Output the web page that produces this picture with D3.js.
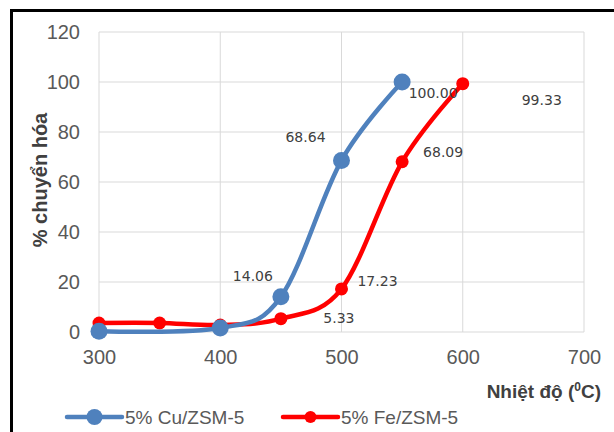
<!DOCTYPE html>
<html>
<head>
<meta charset="utf-8">
<script src="https://cdn.jsdelivr.net/npm/d3@7"></script>
<style>
  html, body { margin: 0; padding: 0; background: #fff; }
  svg { display: block; }
</style>
</head>
<body>
<svg id="chart" width="614" height="432"></svg>
<script>
// values
var cuTemps = [300, 400, 450, 500, 550];
var cuValues = [0.3, 1.6, 14.06, 68.64, 100.00];
var feTemps = [300, 350, 400, 450, 500, 550, 600];
var feValues = [3.6, 3.6, 2.8, 5.33, 17.23, 68.09, 99.33];
var xTicks = [300, 400, 500, 600, 700];
var yTicks = [0, 20, 40, 60, 80, 100, 120];
var seriesNames = ["5% Cu/ZSM-5", "5% Fe/ZSM-5"];

// which points carry a label, and where Excel pushed it (px from the point)
var cuLabelled = [2, 3, 4];
var cuNudge = [[-28, -21], [-36, -23], [31, 11]];
var feLabelled = [3, 4, 5, 6];
var feNudge = [[58, -1], [36, -8], [41, -10], [79, 16]];

var blue = "#4f81bd", red = "#ff0000";

var svg = d3.select("#chart");
svg.append("rect").attr("width", 614).attr("height", 432).attr("fill", "#fff");

// black frame, only top and left show in the crop
svg.append("path")
    .attr("d", "M11.5,432 V10.5 H614")
    .attr("fill", "none")
    .attr("stroke", "#000")
    .attr("stroke-width", 3);

var x = d3.scaleLinear().domain([300, 700]).range([99, 584]);
var y = d3.scaleLinear().domain([0, 120]).range([332, 32]);

var grid = svg.append("g");
grid.selectAll(".vg")
    .data(xTicks)
    .enter()
    .append("line")
    .attr("x1", function (d) { return x(d); })
    .attr("x2", function (d) { return x(d); })
    .attr("y1", y(120))
    .attr("y2", y(0))
    .attr("stroke", "#d9d9d9");
grid.selectAll(".hg")
    .data(yTicks)
    .enter()
    .append("line")
    .attr("x1", x(300))
    .attr("x2", x(700))
    .attr("y1", function (d) { return y(d); })
    .attr("y2", function (d) { return y(d); })
    .attr("stroke", "#d9d9d9");

// tick labels via the axis generators, lines hidden
var xAxis = svg.append("g")
    .attr("transform", "translate(0," + y(0) + ")")
    .call(d3.axisBottom(x).tickValues(xTicks).tickSize(0).tickPadding(18).tickFormat(d3.format("d")));
var yAxis = svg.append("g")
    .attr("transform", "translate(" + x(300) + ",0)")
    .call(d3.axisLeft(y).tickValues(yTicks).tickSize(0).tickPadding(19).tickFormat(d3.format("d")));
[xAxis, yAxis].forEach(function (a) {
    a.select(".domain").remove();
    a.selectAll("text")
        .attr("font-family", "Liberation Sans, Arial, sans-serif")
        .attr("font-size", 20)
        .attr("fill", "#595959");
});

// axis titles
svg.append("text")
    .attr("transform", "translate(47,180) rotate(-90)")
    .attr("text-anchor", "middle")
    .attr("font-family", "Liberation Sans, Arial, sans-serif")
    .attr("font-weight", "bold")
    .attr("font-size", 20)
    .attr("fill", "#404040")
    .text("% chuyển hóa");

var xt = svg.append("text")
    .attr("x", 601)
    .attr("y", 398)
    .attr("text-anchor", "end")
    .attr("font-family", "Liberation Sans, Arial, sans-serif")
    .attr("font-weight", "bold")
    .attr("font-size", 19)
    .attr("fill", "#404040");
xt.append("tspan").text("Nhiệt độ  (");
xt.append("tspan").attr("font-size", 12).attr("dy", -7).text("0");
xt.append("tspan").attr("dy", 7).text("C)");

var line = d3.line()
    .x(function (d) { return x(d[0]); })
    .y(function (d) { return y(d[1]); })
    .curve(d3.curveCardinal.tension(0));

function series(ts, vs, color, width, r) {
    var pts = ts.map(function (t, i) { return [t, vs[i]]; });
    svg.append("path")
        .datum(pts)
        .attr("d", line)
        .attr("fill", "none")
        .attr("stroke", color)
        .attr("stroke-width", width)
        .attr("stroke-linecap", "round");
    svg.append("g").selectAll("circle")
        .data(pts)
        .enter()
        .append("circle")
        .attr("cx", function (d) { return x(d[0]); })
        .attr("cy", function (d) { return y(d[1]); })
        .attr("r", r)
        .attr("fill", color);
    return pts;
}

function labels(pts, which, nudge) {
    svg.append("g").selectAll("text")
        .data(which)
        .enter()
        .append("text")
        .attr("x", function (k, i) { return x(pts[k][0]) + nudge[i][0]; })
        .attr("y", function (k, i) { return y(pts[k][1]) + nudge[i][1]; })
        .attr("text-anchor", "middle")
        .attr("dominant-baseline", "central")
        .attr("font-family", "DejaVu Sans, sans-serif")
        .attr("font-size", 14)
        .attr("fill", "#404040")
        .text(function (k) { return d3.format(".2f")(pts[k][1]); });
}

var fePts = series(feTemps, feValues, red, 4.5, 6.5);
var cuPts = series(cuTemps, cuValues, blue, 4.5, 8.5);
labels(cuPts, cuLabelled, cuNudge);
labels(fePts, feLabelled, feNudge);

// legend
var legend = [
    { name: seriesNames[0], color: blue, x0: 67, r: 8 },
    { name: seriesNames[1], color: red, x0: 283, r: 6 }
];
var lg = svg.append("g").selectAll("g")
    .data(legend)
    .enter()
    .append("g")
    .attr("transform", function (d) { return "translate(" + d.x0 + ",417)"; });
lg.append("line")
    .attr("x1", 0).attr("x2", 55)
    .attr("stroke", function (d) { return d.color; })
    .attr("stroke-width", 4.5)
    .attr("stroke-linecap", "round");
lg.append("circle")
    .attr("cx", 27.5)
    .attr("r", function (d) { return d.r; })
    .attr("fill", function (d) { return d.color; });
lg.append("text")
    .attr("x", 58)
    .attr("dominant-baseline", "central")
    .attr("font-family", "Liberation Sans, Arial, sans-serif")
    .attr("font-size", 19)
    .attr("fill", "#595959")
    .text(function (d) { return d.name; });
</script>
</body>
</html>
